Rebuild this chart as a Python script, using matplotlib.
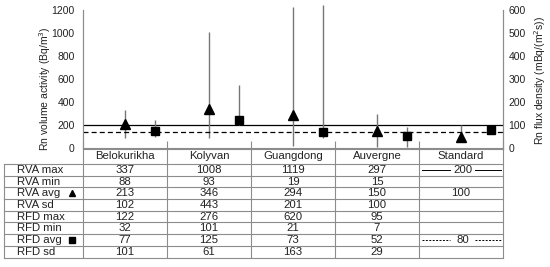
import numpy as np
import matplotlib
matplotlib.use("Agg")
import matplotlib.pyplot as plt

plt.rcParams['font.family'] = ['Liberation Sans', 'DejaVu Sans']

# ---- data ----
categories = ['Belokurikha', 'Kolyvan', 'Guangdong', 'Auvergne', 'Standard']
row_names = ['RVA max', 'RVA min', 'RVA avg', 'RVA sd',
             'RFD max', 'RFD min', 'RFD avg', 'RFD sd']
rva_max = [337, 1008, 1119, 297]
rva_min = [88, 93, 19, 15]
rva_avg = [213, 346, 294, 150, 100]
rva_sd = [102, 443, 201, 100]
rfd_max = [122, 276, 620, 95]
rfd_min = [32, 101, 21, 7]
rfd_avg = [77, 125, 73, 52, 80]
rfd_sd = [101, 61, 163, 29]
std_rva = 200      # standard line, left axis
std_rfd = 80       # standard value in the table
std_rfd_line = 70  # where the dashed line sits on the right axis

# whisker ends as drawn on the chart
rva_bar_hi = [337, 1008, 1230, 297, 200]
rva_bar_lo = [88, 93, 19, 15, 100]
rfd_bar_hi = [122, 276, 620, 95, np.nan]
rfd_bar_lo = [50, 101, 45, 7, np.nan]

W, H = 550, 267
fig = plt.figure(figsize=(W / 100, H / 100), dpi=100)

def px(x0, y0, x1, y1):
    return [x0 / W, 1 - y1 / H, (x1 - x0) / W, (y1 - y0) / H]

grey = '#8c8c8c'
txt = '#222222'
fs = 7.5
tfs = 8.2

ax = fig.add_axes(px(83, 10, 503, 148.5))
ax2 = ax.twinx()
n = len(categories)
ax.set_xlim(0, n)
ax.set_ylim(0, 1200)
ax2.set_ylim(0, 600)
ax.set_yticks(np.arange(0, 1201, 200))
ax2.set_yticks(np.arange(0, 601, 100))
ax.set_xticks(np.arange(n + 1))
ax.set_xticklabels([])
ax.tick_params(axis='x', direction='in', length=6, color=grey, width=0.8)
ax.tick_params(axis='y', length=0, pad=6, labelsize=fs, labelcolor=txt)
ax2.tick_params(axis='y', length=0, pad=4, labelsize=fs, labelcolor=txt)
for a in (ax, ax2):
    a.spines['top'].set_visible(False)
    for s in ('left', 'right', 'bottom'):
        a.spines[s].set_color(grey)
        a.spines[s].set_linewidth(0.8)

xt = np.arange(n) + 0.5
xs = np.arange(n) + 0.86

ax.axhline(std_rva, color='black', lw=0.9, zorder=2)
ax2.axhline(std_rfd_line, color='black', lw=0.9, ls=(0, (4, 2.5)), zorder=2)

ax.vlines(xt, rva_bar_lo, rva_bar_hi, color='#777777', lw=1.0, clip_on=False, zorder=3)
ax2.vlines(xs, rfd_bar_lo, rfd_bar_hi, color='#777777', lw=1.0, clip_on=False, zorder=3)
ax.plot(xt, rva_avg, ls='none', marker='^', ms=6.5, color='black', zorder=4)
ax2.plot(xs, rfd_avg, ls='none', marker='s', ms=6, color='black', zorder=4)

fig.text(45 / W, 1 - 89 / H, 'Rn volume activity (Bq/m$^3$)', rotation=90,
         ha='center', va='center', fontsize=fs, color=txt)
fig.text(540 / W, 1 - 80 / H, 'Rn flux density (mBq/(m$^2$s))', rotation=90,
         ha='center', va='center', fontsize=fs, color=txt)

# ---- data table ----
tax = fig.add_axes(px(4, 148.5, 503, 257.5))
tax.axis('off')
lab_w = 79 / 84
row_h = (257.5 - 164) / 8
hh = (164 - 148.5) / row_h
tax.set_xlim(-lab_w, n)
tax.set_ylim(8, -hh)

lk = dict(color=grey, lw=0.8, clip_on=False)
for r in range(9):
    tax.plot([-lab_w, n], [r, r], **lk)
tax.plot([-lab_w, -lab_w], [0, 8], **lk)
for c in range(n + 1):
    tax.plot([c, c], [-hh, 8], **lk)

for c, name in enumerate(categories):
    tax.text(c + 0.5, -hh / 2, name, ha='center', va='center', fontsize=tfs, color=txt)
for r, name in enumerate(row_names):
    tax.text(-lab_w + 0.155, r + 0.5, name, ha='left', va='center', fontsize=tfs, color=txt)
tax.plot([-0.13], [2.5], marker='^', ms=5, color='black', clip_on=False)
tax.plot([-0.13], [6.5], marker='s', ms=4.5, color='black', clip_on=False)

cols = [rva_max, rva_min, rva_avg, rva_sd, rfd_max, rfd_min, rfd_avg, rfd_sd]
for r, vals in enumerate(cols):
    for c in range(4):
        tax.text(c + 0.5, r + 0.5, str(vals[c]), ha='center', va='center',
                 fontsize=tfs, color=txt)

# standard column
tax.text(4.52, 0.5, str(std_rva), ha='center', va='center', fontsize=tfs, color=txt)
tax.plot([4.04, 4.37], [0.5, 0.5], color='black', lw=0.7)
tax.plot([4.67, 4.98], [0.5, 0.5], color='black', lw=0.7)
tax.text(4.5, 2.5, str(rva_avg[4]), ha='center', va='center', fontsize=tfs, color=txt)
tax.text(4.52, 6.5, str(std_rfd), ha='center', va='center', fontsize=tfs, color=txt)
tax.plot([4.04, 4.37], [6.5, 6.5], color='black', lw=0.7, ls=(0, (2, 1.5)))
tax.plot([4.67, 4.98], [6.5, 6.5], color='black', lw=0.7, ls=(0, (2, 1.5)))

fig.savefig('out.png', dpi=100)
